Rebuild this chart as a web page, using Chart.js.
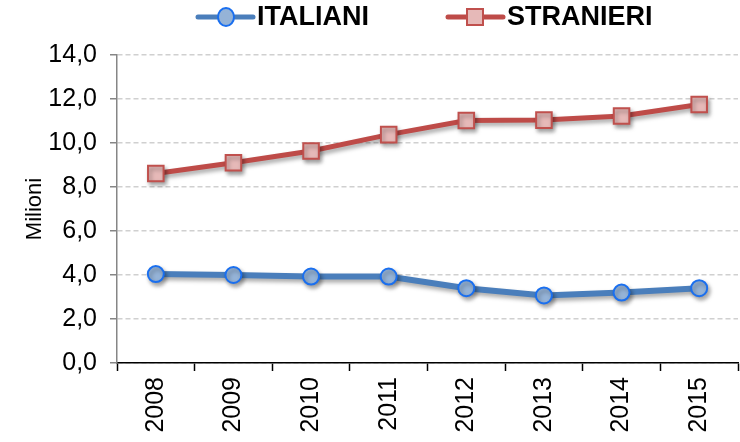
<!DOCTYPE html>
<html>
<head>
<meta charset="utf-8">
<script src="https://cdn.jsdelivr.net/npm/chart.js@4"></script>
<style>
  html, body { margin: 0; padding: 0; background: #fff; }
  #wrap { width: 740px; height: 442px; }
</style>
</head>
<body>
<div id="wrap"><canvas id="lineChart" width="740" height="442"></canvas></div>
<script>
// Data (milioni)
const years = ['2008', '2009', '2010', '2011', '2012', '2013', '2014', '2015'];
const italiani = [4.04, 4.0, 3.93, 3.93, 3.4, 3.07, 3.2, 3.4];
const stranieri = [8.61, 9.1, 9.64, 10.38, 11.02, 11.04, 11.23, 11.75];
const yTicks = [0, 2, 4, 6, 8, 10, 12, 14];

const FONT = '"Liberation Sans", Arial, sans-serif';

// Soft shadow under each line, like the original
const shadowPlugin = {
  id: 'shadow',
  beforeDatasetDraw(chart) {
    const ctx = chart.ctx;
    ctx.save();
    ctx.shadowColor = 'rgba(0,0,0,0.35)';
    ctx.shadowBlur = 4;
    ctx.shadowOffsetX = 2;
    ctx.shadowOffsetY = 3;
  },
  afterDatasetDraw(chart) {
    chart.ctx.restore();
  }
};

// Legend with line + marker, drawn on top
const legendPlugin = {
  id: 'lineLegend',
  afterDraw(chart) {
    const ctx = chart.ctx;
    const items = [
      { text: 'ITALIANI', x0: 198, x1: 253, mx: 226, color: '#4A7EBB', style: 'circle', fill: '#95B3D7', border: '#1A6FEF' },
      { text: 'STRANIERI', x0: 448, x1: 503, mx: 475, color: '#BE4B48', style: 'rect', fill: '#E6B9B8', border: '#C0504D' }
    ];
    const y = 17;
    ctx.save();
    items.forEach(it => {
      ctx.strokeStyle = it.color;
      ctx.lineWidth = 5;
      ctx.lineCap = 'round';
      ctx.beginPath();
      ctx.moveTo(it.x0, y);
      ctx.lineTo(it.x1, y);
      ctx.stroke();
      ctx.fillStyle = it.fill;
      ctx.strokeStyle = it.border;
      ctx.lineWidth = 2;
      ctx.beginPath();
      if (it.style === 'circle') {
        ctx.ellipse(it.mx, y, 8, 9, 0, 0, Math.PI * 2);
      } else {
        ctx.rect(it.mx - 8, y - 8, 16, 16);
      }
      ctx.fill();
      ctx.stroke();
      ctx.fillStyle = '#000';
      ctx.font = 'bold 27px ' + FONT;
      ctx.textBaseline = 'middle';
      ctx.fillText(it.text, it.x1 + 4, y + 1);
    });
    ctx.restore();
  }
};

let ctx = document.getElementById('lineChart').getContext('2d');

new Chart(ctx, {
  type: 'line',
  data: {
    labels: years,
    datasets: [{
      label: 'ITALIANI',
      data: italiani,
      borderColor: '#4A7EBB',
      borderWidth: 6,
      pointStyle: 'circle',
      pointRadius: 8,
      pointBorderWidth: 2,
      pointBackgroundColor: '#95B3D7',
      pointBorderColor: '#1A6FEF',
      tension: 0
    }, {
      label: 'STRANIERI',
      data: stranieri,
      borderColor: '#BE4B48',
      borderWidth: 5,
      pointStyle: 'rect',
      pointRadius: 11,
      pointBorderWidth: 2,
      pointBackgroundColor: '#E6B9B8',
      pointBorderColor: '#C0504D',
      tension: 0
    }]
  },
  options: {
    responsive: false,
    animation: false,
    layout: { autoPadding: false, padding: { top: 55, right: 2, left: 0, bottom: 0 } },
    plugins: {
      legend: { display: false },
      tooltip: { enabled: false }
    },
    scales: {
      x: {
        offset: true,
        afterFit(axis) {
          axis.height = 79;
        },
        grid: {
          offset: true,
          drawOnChartArea: false,
          drawTicks: true,
          tickLength: 8,
          tickColor: '#000',
          tickWidth: 1.5
        },
        border: { color: '#000', width: 1.5 },
        ticks: {
          color: '#000',
          font: { family: FONT, size: 25 },
          maxRotation: 90,
          minRotation: 90,
          padding: 6
        }
      },
      y: {
        min: 0,
        max: 14,
        afterBuildTicks(axis) {
          axis.ticks = yTicks.map(v => ({ value: v }));
        },
        afterFit(axis) {
          axis.width = 117;
        },
        title: {
          display: true,
          text: 'Milioni',
          color: '#000',
          font: { family: FONT, size: 22 },
          padding: { top: 22, bottom: 0 }
        },
        grid: {
          color: '#D0D0D0',
          tickColor: '#868686',
          tickLength: 7,
          tickBorderDash: [],
          lineWidth: 1.5
        },
        border: { color: '#868686', width: 1.5, dash: [5, 3] },
        ticks: {
          color: '#000',
          font: { family: FONT, size: 25 },
          padding: 13,
          callback: v => v.toFixed(1).replace('.', ',')
        }
      }
    }
  },
  plugins: [shadowPlugin, legendPlugin]
});
</script>
</body>
</html>
